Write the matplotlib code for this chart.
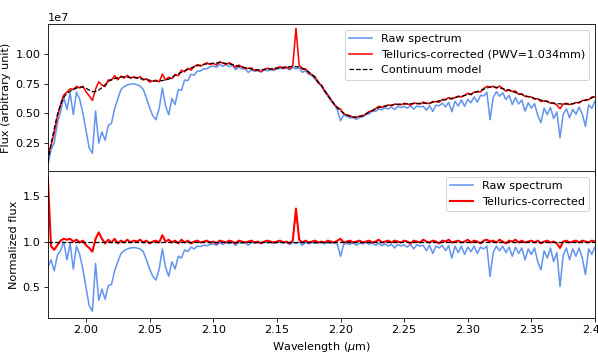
import numpy as np
import matplotlib
matplotlib.use("Agg")
import matplotlib.pyplot as plt

plt.rcParams['font.size'] = 10.8

# wavelength grid (micron), 0.0025 step from 1.97 to 2.40
wave = np.round(np.arange(173) * 0.0025 + 1.97, 4)

# continuum model (units of 1e7)
continuum = [
    0.09, 0.24, 0.37, 0.49, 0.57, 0.635, 0.665, 0.685, 0.70, 0.712,
    0.72, 0.72, 0.71, 0.695, 0.683, 0.682, 0.695, 0.715, 0.74, 0.765,
    0.785, 0.792, 0.798, 0.804, 0.805, 0.803, 0.801, 0.80, 0.796, 0.792,
    0.787, 0.783, 0.778, 0.772, 0.77, 0.772, 0.775, 0.78, 0.787, 0.80,
    0.818, 0.832, 0.845, 0.857, 0.87, 0.88, 0.892, 0.90, 0.905, 0.91,
    0.915, 0.918, 0.92, 0.923, 0.925, 0.922, 0.919, 0.915, 0.91, 0.902,
    0.896, 0.89, 0.884, 0.878, 0.872, 0.867, 0.865, 0.866, 0.868, 0.87,
    0.873, 0.877, 0.88, 0.883, 0.886, 0.889, 0.891, 0.894, 0.892, 0.888,
    0.879, 0.865, 0.848, 0.825, 0.80, 0.765, 0.735, 0.695, 0.65, 0.615,
    0.58, 0.545, 0.52, 0.50, 0.485, 0.475, 0.469, 0.467, 0.472, 0.482,
    0.495, 0.51, 0.525, 0.538, 0.548, 0.555, 0.56, 0.565, 0.569, 0.572,
    0.575, 0.577, 0.578, 0.579, 0.58, 0.581, 0.582, 0.583, 0.583, 0.584,
    0.587, 0.592, 0.598, 0.605, 0.61, 0.615, 0.62, 0.626, 0.632, 0.638,
    0.644, 0.65, 0.656, 0.662, 0.672, 0.682, 0.692, 0.702, 0.712, 0.72,
    0.72, 0.718, 0.715, 0.707, 0.70, 0.692, 0.683, 0.674, 0.665, 0.657,
    0.648, 0.64, 0.632, 0.625, 0.618, 0.611, 0.604, 0.597, 0.59, 0.585,
    0.581, 0.579, 0.578, 0.578, 0.578, 0.58, 0.585, 0.593, 0.602, 0.61,
    0.62, 0.63, 0.64,
]

# raw spectrum divided by continuum
raw_norm = [
    0.72, 0.80, 0.68, 0.85, 0.90, 1.00, 0.80, 0.98, 0.70, 0.95,
    0.86, 0.70, 0.50, 0.30, 0.24, 0.76, 0.36, 0.48, 0.37, 0.52,
    0.53, 0.68, 0.78, 0.87, 0.90, 0.92, 0.93, 0.935, 0.93, 0.92,
    0.89, 0.80, 0.70, 0.62, 0.58, 0.70, 0.92, 0.72, 0.62, 0.78,
    0.70, 0.84, 0.82, 0.91, 0.89, 0.94, 0.92, 0.95, 0.945, 0.96,
    0.955, 0.97, 0.975, 0.96, 0.985, 0.97, 0.99, 0.975, 0.99, 0.96,
    0.99, 0.98, 0.99, 0.96, 0.99, 0.985, 0.99, 0.98, 0.995, 0.985,
    0.99, 0.98, 0.99, 0.995, 0.985, 0.99, 0.97, 0.99, 0.98, 0.995,
    0.96, 0.99, 0.975, 0.99, 0.98, 0.985, 0.99, 0.975, 0.99, 0.98,
    0.99, 0.97, 0.84, 0.97, 0.98, 0.97, 0.99, 0.96, 0.985, 0.975,
    0.99, 0.97, 0.985, 0.96, 0.98, 0.955, 0.975, 0.95, 0.97, 0.93,
    0.97, 0.95, 0.965, 0.94, 0.97, 0.92, 0.965, 0.95, 0.96, 0.90,
    0.96, 0.87, 0.95, 0.93, 0.96, 0.90, 0.955, 0.82, 0.95, 0.88,
    0.95, 0.86, 0.94, 0.89, 0.95, 0.87, 0.94, 0.92, 0.95, 0.62,
    0.88, 0.95, 0.90, 0.95, 0.88, 0.94, 0.84, 0.94, 0.87, 0.93,
    0.80, 0.92, 0.86, 0.93, 0.78, 0.69, 0.90, 0.82, 0.93, 0.78,
    0.88, 0.51, 0.85, 0.93, 0.80, 0.92, 0.84, 0.93, 0.82, 0.64,
    0.92, 0.86, 0.94,
]

# tellurics-corrected spectrum divided by continuum
corr_norm = [
    1.70, 0.95, 0.91, 0.96, 1.01, 1.03, 1.02, 1.03, 1.00, 1.02,
    0.99, 1.01, 0.96, 0.93, 0.89, 1.03, 1.10, 1.03, 0.98, 1.02,
    0.99, 1.03, 0.98, 1.01, 0.99, 1.02, 0.99, 1.01, 1.00, 1.02,
    0.99, 1.01, 0.98, 1.00, 1.01, 0.99, 1.07, 1.00, 1.02, 0.99,
    1.01, 0.98, 1.02, 0.99, 1.01, 0.98, 1.00, 1.01, 0.99, 1.00,
    1.01, 0.99, 1.00, 0.98, 1.01, 1.00, 0.99, 1.01, 1.00, 0.98,
    1.01, 1.00, 0.99, 1.00, 1.01, 0.99, 1.00, 0.98, 1.00, 1.01,
    1.00, 0.99, 1.00, 1.01, 0.99, 1.00, 0.98, 1.01, 1.36, 1.02,
    0.99, 1.01, 0.99, 1.00, 1.01, 0.99, 1.00, 0.99, 1.01, 1.00,
    0.99, 1.01, 1.03, 0.99, 1.00, 1.01, 0.99, 1.00, 1.01, 0.99,
    1.00, 1.01, 0.99, 1.00, 1.02, 0.99, 1.00, 1.01, 0.99, 1.01,
    1.00, 0.99, 1.01, 1.00, 0.98, 1.01, 1.00, 0.99, 1.02, 1.00,
    0.99, 1.01, 1.00, 0.98, 1.01, 1.00, 1.02, 0.99, 1.00, 1.01,
    0.99, 1.00, 1.02, 0.99, 1.01, 1.00, 0.98, 1.01, 1.02, 1.00,
    1.01, 0.99, 1.02, 1.00, 0.98, 1.01, 1.00, 1.02, 0.99, 1.01,
    0.99, 1.00, 1.01, 0.99, 1.01, 0.98, 1.00, 1.01, 0.99, 1.00,
    0.98, 0.93, 1.00, 1.01, 0.99, 1.00, 1.01, 0.99, 1.01, 1.00,
    0.99, 1.01, 1.00,
]

cont = np.array(continuum) * 1e7
raw_flux = np.array(raw_norm) * cont
corr_flux = np.array(corr_norm) * cont

fig, (ax0, ax1) = plt.subplots(2, 1, sharex=True, figsize=(598 / 75, 353 / 75), dpi=75)
fig.subplots_adjust(left=0.080, right=0.995, top=0.932, bottom=0.099, hspace=0)

ax0.plot(wave, raw_flux, color='cornflowerblue', lw=1.5, label='Raw spectrum')
ax0.plot(wave, corr_flux, color='red', lw=1.5, label='Tellurics-corrected (PWV=1.034mm)')
ax0.plot(wave, cont, 'k--', lw=1.2, label='Continuum model')
ax0.set_ylabel('Flux (arbitrary unit)')
ax0.set_ylim(0.015e7, 1.25e7)
ax0.set_yticks(np.array([0.25, 0.5, 0.75, 1.0]) * 1e7)
ax0.legend(loc='upper right')

ax1.plot(wave, raw_norm, color='cornflowerblue', lw=1.5, label='Raw spectrum')
ax1.plot(wave, corr_norm, color='red', lw=2, label='Tellurics-corrected')
ax1.plot(wave, np.array(continuum) / np.array(continuum), 'k--', lw=1.2)
ax1.set_ylabel('Normalized flux')
ax1.set_xlabel(r'Wavelength ($\mu$m)')
ax1.set_ylim(0.165, 1.77)
ax1.set_yticks([0.5, 1.0, 1.5])
ax1.set_xlim(1.97, 2.40)
ax1.set_xticks([2.00, 2.05, 2.10, 2.15, 2.20, 2.25, 2.30, 2.35, 2.40])
ax1.legend(loc='upper right')

fig.savefig('out.png')
